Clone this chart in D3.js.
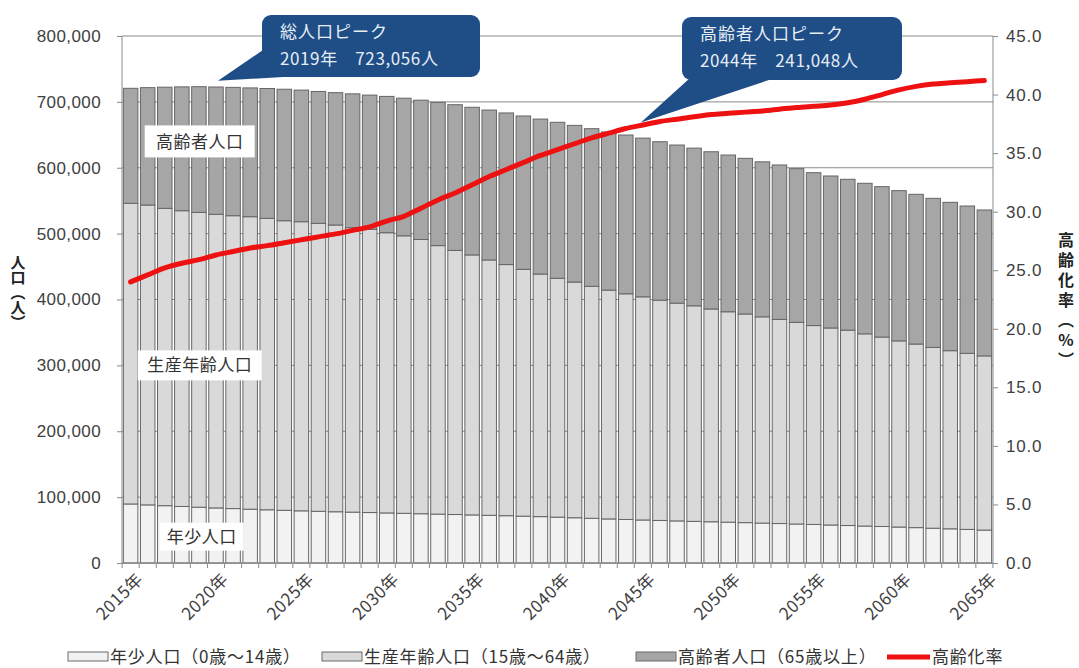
<!DOCTYPE html>
<html><head><meta charset="utf-8">
<script src="https://cdn.jsdelivr.net/npm/d3@7"></script>
<style>
body{margin:0;background:#fff;}
svg text{font-family:"Liberation Sans","Noto Sans CJK JP",sans-serif;}
.jp{font-family:"Noto Sans CJK JP","Liberation Sans",sans-serif;}
</style></head>
<body><svg id="c" width="1079" height="668"></svg>
<script>
const years = d3.range(2015, 2066);
const youngPop = [89600,88200,87000,85800,84700,83600,82600,81700,80800,80000,79200,78500,77800,77200,76600,76000,75400,74800,74200,73600,73000,72400,71800,71100,70400,69600,68700,67800,66900,66100,65300,64600,63900,63200,62600,62000,61300,60600,59900,59200,58500,57700,56900,56100,55400,54600,53700,52800,51900,51000,50000];
const workingPop = [456400,455200,451400,449000,447556,445700,444600,444000,442400,439600,438900,437100,435300,431800,430000,425400,421300,416300,407600,400900,394700,387600,381200,374700,368300,362600,357800,352200,347300,342552,338800,334400,330600,327200,323000,319400,316700,313100,309900,306100,301900,299100,296600,291800,287600,282600,278700,274500,270400,267200,264400];
const elderlyPop = [174600,178200,183900,188000,190800,193300,194800,195500,197100,199600,199800,200200,200900,203200,203700,206900,208900,211500,217500,221200,224100,227600,230200,232800,235200,236800,237800,239300,240100,241048,240900,240500,240000,239400,238700,237900,236300,235300,234400,233300,232100,230700,229000,228500,228300,228000,227300,226300,225200,223700,221500];
const agingRate = [24.0,24.6,25.2,25.6,25.9,26.3,26.6,26.9,27.1,27.35,27.6,27.85,28.1,28.4,28.7,29.2,29.6,30.3,31.0,31.6,32.3,33.0,33.6,34.2,34.8,35.3,35.8,36.3,36.7,37.1,37.4,37.7,37.9,38.1,38.3,38.4,38.5,38.6,38.75,38.9,39.0,39.1,39.3,39.6,40.0,40.4,40.7,40.9,41.0,41.1,41.2];
const leftTicks = [0,100000,200000,300000,400000,500000,600000,700000,800000];
const rightTicks = [0,5,10,15,20,25,30,35,40,45];
const labelYears = [2015,2020,2025,2030,2035,2040,2045,2050,2055,2060,2065];
const seriesKeys = ["young","working","elderly"];
const seriesNames = ["年少人口（0歳～14歳）","生産年齢人口（15歳～64歳）","高齢者人口（65歳以上）"];
const rateName = "高齢化率";
const seriesColors = ["#f2f2f2","#d9d9d9","#a6a6a6"];
const peakTotal = {year:2019, value:723056, title:"総人口ピーク", text:"2019年　723,056人"};
const peakElderly = {year:2044, value:241048, title:"高齢者人口ピーク", text:"2044年　241,048人"};
const leftTitle = "人口（人）";
const rightTitle = "高齢化率（%）";

const svg = d3.select("#c");
const L=122, R=993, T=36, B=563;
const x = d3.scaleBand().domain(years).range([L,R]).paddingInner(0.15).paddingOuter(0.08);
const y = d3.scaleLinear().domain([0,800000]).range([B,T]);
const yr = d3.scaleLinear().domain([0,45]).range([B,T]);
const step = x.step(), bw = x.bandwidth();

// gridlines
svg.append("g").selectAll("line").data(leftTicks).join("line")
  .attr("x1",L).attr("x2",R).attr("y1",d=>y(d)).attr("y2",d=>y(d))
  .attr("stroke","#8a8a8a").attr("stroke-width",1);

// stacked bars
const table = years.map((yy,i)=>({year:yy, young:youngPop[i], working:workingPop[i], elderly:elderlyPop[i]}));
const stack = d3.stack().keys(seriesKeys)(table);
svg.append("g").selectAll("g").data(stack).join("g")
  .attr("fill",(d,i)=>seriesColors[i])
  .selectAll("rect").data(d=>d).join("rect")
  .attr("x",d=>x(d.data.year)).attr("width",bw)
  .attr("y",d=>y(d[1])).attr("height",d=>y(d[0])-y(d[1]))
  .attr("stroke","#666").attr("stroke-width",1);

// axes lines
svg.append("line").attr("x1",L).attr("x2",L).attr("y1",T).attr("y2",B).attr("stroke","#8a8a8a");
svg.append("line").attr("x1",R).attr("x2",R).attr("y1",T).attr("y2",B).attr("stroke","#8a8a8a");
svg.append("line").attr("x1",L).attr("x2",R).attr("y1",B).attr("y2",B).attr("stroke","#8a8a8a");

// left axis
const gl = svg.append("g").attr("transform",`translate(${L},0)`)
  .call(d3.axisLeft(y).tickValues(leftTicks).tickFormat(d3.format(",")).tickSize(5).tickPadding(16));
gl.select(".domain").remove();
gl.selectAll("line").attr("stroke","#8a8a8a");
gl.selectAll("text").attr("font-size",17).attr("fill","#404040").style("letter-spacing","0.4px");

// right axis
const gr = svg.append("g").attr("transform",`translate(${R},0)`)
  .call(d3.axisRight(yr).tickValues(rightTicks).tickFormat(d3.format(".1f")).tickSize(5).tickPadding(8));
gr.select(".domain").remove();
gr.selectAll("line").attr("stroke","#8a8a8a");
gr.selectAll("text").attr("font-size",17).attr("fill","#404040").style("letter-spacing","0.8px");

// x ticks at band boundaries
const bounds = years.map(d=>x(d)-step*0.075).concat([x(years[years.length-1])+bw+step*0.075]);
svg.append("g").selectAll("line").data(bounds).join("line")
  .attr("x1",d=>d).attr("x2",d=>d).attr("y1",B).attr("y2",B+5).attr("stroke","#8a8a8a");

// x labels
svg.append("g").selectAll("text").data(labelYears).join("text")
  .attr("class","jp")
  .attr("transform",d=>`translate(${x(d)+bw/2+5},${B+9}) rotate(-45)`)
  .attr("text-anchor","end").attr("dy","0.7em")
  .attr("font-size",17).attr("fill","#404040").style("letter-spacing","0.5px")
  .text(d=>d+"年");

// line
const line = d3.line().x((d,i)=>x(years[i])+bw/2).y(d=>yr(d)).curve(d3.curveMonotoneX);
svg.append("path").datum(agingRate).attr("d",line).attr("fill","none")
  .attr("stroke","#ee1111").attr("stroke-width",5).attr("stroke-linecap","round");

// inner labels
function boxLabel(cx, cy, w, h, txt){
  svg.append("rect").attr("x",cx-w/2).attr("y",cy-h/2).attr("width",w).attr("height",h).attr("fill","#fff");
  svg.append("text").attr("class","jp").attr("x",cx).attr("y",cy).attr("dy","0.36em")
    .attr("text-anchor","middle").attr("font-size",17).attr("fill","#333").style("letter-spacing","0.5px").text(txt);
}
boxLabel(x(2016)+bw/2+52, y(640000), 110, 32, "高齢者人口");
boxLabel(x(2016)+bw/2+52, y(300000), 124, 30, "生産年齢人口");
boxLabel(x(2017)+bw/2+37, y(40000), 84, 28, "年少人口");

// callouts
function callout(bx, by, bw2, bh, tip, tailA, tailB, t1, t2){
  const g = svg.append("g");
  g.append("path").attr("d",`M${tailA[0]},${tailA[1]} L${tip[0]},${tip[1]} L${tailB[0]},${tailB[1]} Z`).attr("fill","#1f4d86");
  g.append("rect").attr("x",bx).attr("y",by).attr("width",bw2).attr("height",bh).attr("rx",9).attr("fill","#1f4d86");
  g.append("text").attr("class","jp").attr("x",bx+18).attr("y",by+23).attr("font-size",17).attr("fill","#e6edf5").style("letter-spacing","1px").text(t1);
  g.append("text").attr("class","jp").attr("x",bx+18).attr("y",by+50).attr("font-size",17).attr("fill","#e6edf5").style("letter-spacing","0.6px").text(t2);
}
const tip1 = [x(peakTotal.year+1)+bw/2+2, y(peakTotal.value)-6];
callout(262, 15, 218, 62, tip1, [263,50], [300,76], peakTotal.title, peakTotal.text);
const i44 = years.indexOf(peakElderly.year);
const tip2 = [x(peakElderly.year+1)+bw/2-2, yr(agingRate[i44])-6];
callout(682, 17, 220, 63, tip2, [690,78], [775,78], peakElderly.title, peakElderly.text);

// axis titles (vertical writing)
svg.append("text").attr("class","jp").attr("x",18).attr("y",255)
  .attr("font-size",15).attr("font-weight","bold").attr("fill","#222")
  .style("writing-mode","vertical-rl").style("text-orientation","upright")
  .text(leftTitle);
svg.append("text").attr("class","jp").attr("x",1066).attr("y",232)
  .attr("font-size",16).attr("font-weight","bold").attr("fill","#222")
  .style("writing-mode","vertical-rl").style("text-orientation","upright").style("letter-spacing","4px")
  .text(rightTitle);

// legend
const lg = svg.append("g");
const lx = [68, 322, 636];
seriesNames.forEach((n,i)=>{
  lg.append("rect").attr("x",lx[i]).attr("y",652).attr("width",40).attr("height",9)
    .attr("fill",seriesColors[i]).attr("stroke","#6a6a6a");
  lg.append("text").attr("class","jp").attr("x",lx[i]+42).attr("y",657).attr("dy","0.36em")
    .attr("font-size",17).attr("fill","#333").style("letter-spacing","0.8px").text(n);
});
lg.append("line").attr("x1",887).attr("x2",930).attr("y1",657).attr("y2",657).attr("stroke","#ee1111").attr("stroke-width",5);
lg.append("text").attr("class","jp").attr("x",932).attr("y",657).attr("dy","0.36em")
  .attr("font-size",17).attr("fill","#333").style("letter-spacing","0.8px").text(rateName);
</script></body></html>
